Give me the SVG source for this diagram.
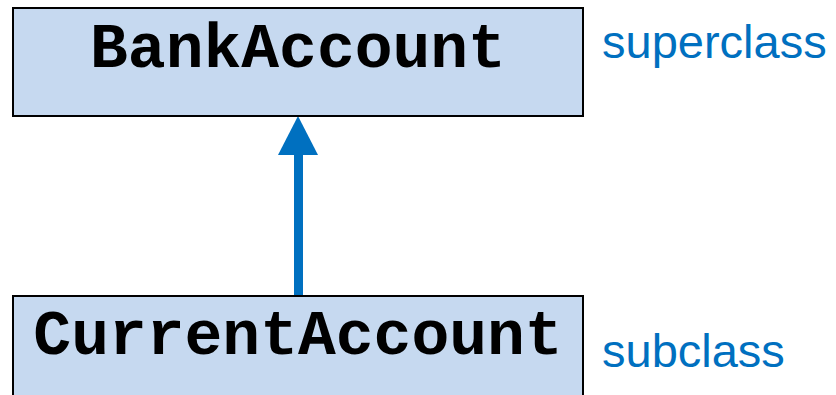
<svg xmlns="http://www.w3.org/2000/svg" width="836" height="395" viewBox="0 0 836 395">
<style>
.box{fill:#C6D9F0;stroke:#000;stroke-width:2}
.cls{font-family:"Courier New","Liberation Mono",monospace;font-weight:bold;font-size:63px;fill:#000;text-anchor:middle}
.lbl{font-family:"Liberation Sans",Arial,sans-serif;font-size:47px;fill:#0070C0}
</style>
<rect x="0" y="0" width="836" height="395" fill="#fff"/>
<g id="connectors">
<rect x="294" y="153" width="9" height="144" fill="#0070C0"/>
<polygon points="298,116 278,155 318,155" fill="#0070C0"/>
</g>
<g id="BankAccount">
<rect class="box" x="13" y="8" width="570" height="108"/>
<text class="cls" x="298" y="67">BankAccount</text>
</g>
<g id="CurrentAccount">
<rect class="box" x="13" y="296" width="570" height="110"/>
<text class="cls" x="298" y="354">CurrentAccount</text>
</g>
<text class="lbl" x="602" y="58">superclass</text>
<text class="lbl" x="602" y="367">subclass</text>
</svg>
